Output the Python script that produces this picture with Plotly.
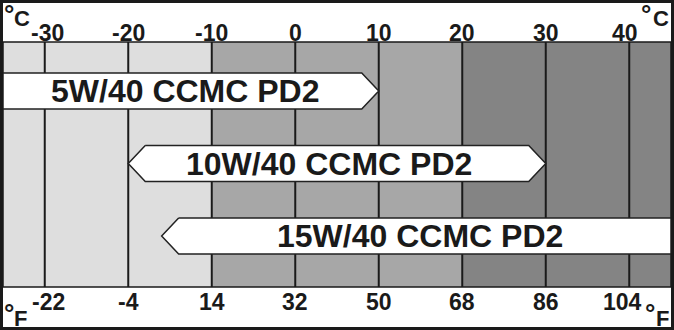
import plotly.graph_objects as go

# ---- data ----
celsius_ticks = [-30, -20, -10, 0, 10, 20, 30, 40]
fahrenheit_labels = ["-22", "-4", "14", "32", "50", "68", "86", "104"]
band_edges = [-35, -10, 20, 45]
band_colors = ["#dedede", "#a7a7a7", "#848484"]
oil_names = ["5W/40 CCMC PD2", "10W/40 CCMC PD2", "15W/40 CCMC PD2"]
oil_min = [-35, -20, -16]
oil_max = [10, 30, 45]

# ---- layout geometry / styling ----
W, H = 674, 330
T_LO, T_HI = band_edges[0], band_edges[-1]
PX_L, PX_R = 3, 671
scale = (PX_R - PX_L) / (T_HI - T_LO)
x_range = [T_LO - PX_L / scale, T_HI + (W - PX_R) / scale]

ROW0_PX, ROW_STEP = 91, 72.5
y_range = [(H - ROW0_PX) / ROW_STEP, -ROW0_PX / ROW_STEP]  # reversed

GRAY_TOP = 1 - 42 / H
GRAY_BOT = 1 - 287 / H
HEAD = 17 / scale
HALF = 18 / ROW_STEP
label_xshift = [-5, -8, 4]

FONT = "Liberation Sans, Arial, sans-serif"
INK = "#1a1a1a"

fig = go.Figure()

shapes = []
for i, c in enumerate(band_colors):
    shapes.append(dict(type="rect", xref="x", yref="paper", x0=band_edges[i], x1=band_edges[i + 1],
                       y0=GRAY_BOT, y1=GRAY_TOP, fillcolor=c, line=dict(width=0), layer="below"))
shapes.append(dict(type="rect", xref="x", yref="paper", x0=T_LO, x1=T_HI, y0=GRAY_BOT, y1=GRAY_TOP,
                   line=dict(color=INK, width=1.5), layer="below"))
for t in celsius_ticks:
    shapes.append(dict(type="line", xref="x", yref="paper", x0=t, x1=t, y0=GRAY_BOT, y1=GRAY_TOP,
                       line=dict(color=INK, width=2), layer="below"))
shapes.append(dict(type="rect", xref="paper", yref="paper", x0=0, x1=1, y0=0, y1=1,
                   line=dict(color=INK, width=6), layer="above"))

for i, (name, lo, hi) in enumerate(zip(oil_names, oil_min, oil_max)):
    top, bot = i - HALF, i + HALF
    open_l = lo <= T_LO
    open_r = hi >= T_HI
    xl = lo if open_l else lo + HEAD
    xr = hi if open_r else hi - HEAD
    xs = [xl, xr]
    ys = [top, top]
    if not open_r:
        xs.append(hi); ys.append(i)
    xs += [xr, xl]; ys += [bot, bot]
    if not open_l:
        xs.append(lo); ys.append(i)
    xs.append(xl); ys.append(top)
    fig.add_trace(go.Scatter(x=xs, y=ys, mode="lines", fill="toself", fillcolor="white",
                             line=dict(color="#222222", width=1.5), hoverinfo="skip", showlegend=False))
    fig.add_annotation(x=(lo + hi) / 2, y=i, text=name, showarrow=False, xanchor="center", yanchor="middle",
                       xshift=label_xshift[i],
                       font=dict(family=FONT, size=32, color=INK, weight="bold"))

annots = []
n = len(celsius_ticks)
for k, (t, f) in enumerate(zip(celsius_ticks, fahrenheit_labels)):
    shift_c = 3 if k == 0 else (-4 if k == n - 1 else 0)
    shift_f = 4 if k == 0 else (-7 if k == n - 1 else 0)
    annots.append(dict(x=t, y=1 - 33 / H, xref="x", yref="paper", text=f"{t}", showarrow=False,
                       xanchor="center", yanchor="middle", xshift=shift_c,
                       font=dict(family=FONT, size=23, color=INK, weight="bold")))
    annots.append(dict(x=t, y=1 - 302 / H, xref="x", yref="paper", text=f, showarrow=False,
                       xanchor="center", yanchor="middle", xshift=shift_f,
                       font=dict(family=FONT, size=23, color=INK, weight="bold")))

def unit(xpx, ypx, txt, size):
    return dict(x=xpx / W, y=1 - ypx / H, xref="paper", yref="paper", text=txt, showarrow=False,
                xanchor="center", yanchor="middle",
                font=dict(family=FONT, size=size, color=INK, weight="bold"))

annots += [
    unit(9, 14, "°", 26), unit(22, 18, "C", 22),
    unit(646, 14, "°", 26), unit(661, 18, "C", 22),
    unit(9, 313, "°", 26), unit(20, 318, "F", 22),
    unit(650, 313, "°", 26), unit(662, 318, "F", 22),
]
for a in annots:
    fig.add_annotation(**a)

fig.update_layout(
    width=W, height=H, margin=dict(l=0, r=0, t=0, b=0),
    paper_bgcolor="white", plot_bgcolor="white",
    xaxis=dict(range=x_range, visible=False, fixedrange=True),
    yaxis=dict(range=y_range, visible=False, fixedrange=True),
    shapes=shapes, showlegend=False,
)
fig.write_html("out.html", config={"displayModeBar": False})
